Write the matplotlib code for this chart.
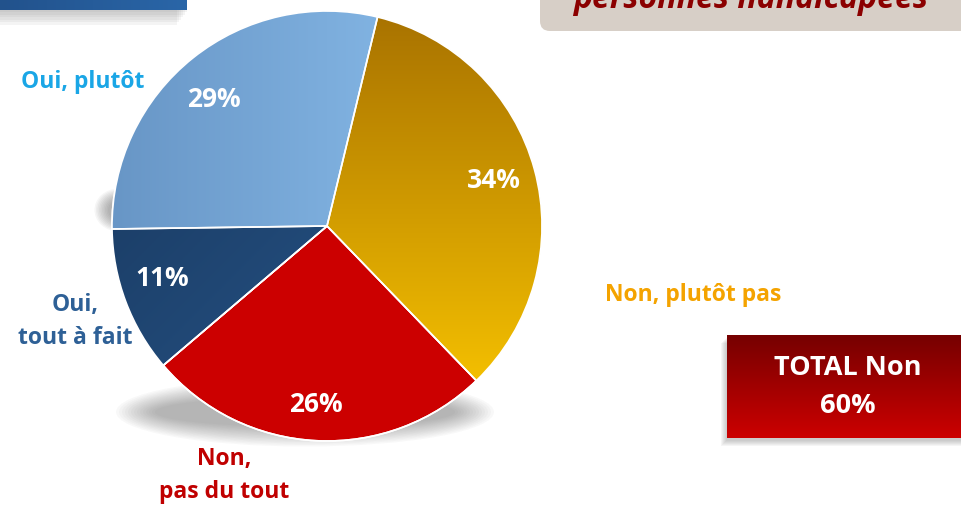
import numpy as np
import matplotlib
matplotlib.use("Agg")
import matplotlib.pyplot as plt
from matplotlib.patches import FancyBboxPatch, Rectangle, Ellipse, Wedge
from matplotlib.colors import LinearSegmentedColormap

plt.rcParams['font.family'] = ['Open Sans', 'DejaVu Sans']

categories = ["Non, plutôt pas", "Non,\npas du tout", "Oui,\ntout à fait", "Oui, plutôt"]
values = [34, 26, 11, 29]
pct_labels = ["34%", "26%", "11%", "29%"]
total_label = "TOTAL Non\n60%"
title_fragment = "personnes handicapées"

W, H = 962, 505
fig = plt.figure(figsize=(W / 100, H / 100), dpi=100)
ax = fig.add_axes([0, 0, 1, 1])

def Y(py):
    return H - py

cx, cy, R = 327, Y(226), 215

# shadow under the pie
for i in range(14):
    ax.add_patch(Ellipse((305, Y(412)), 300 + i * 6, 30 + i * 3,
                         color='#505050', alpha=0.035, lw=0, zorder=1))
for i in range(10):
    ax.add_patch(Ellipse((118, Y(210)), 20 + i * 3, 20 + i * 2.5,
                         color='#505050', alpha=0.05, lw=0, zorder=1))

wedges, _ = ax.pie(values, center=(cx, cy), radius=R, startangle=76.4,
                   counterclock=False, colors=['#E0A000', '#CC0000', '#22507F', '#7AAEE0'],
                   wedgeprops=dict(edgecolor='white', linewidth=1.2))
for w in wedges:
    w.set_zorder(3)

def gradient_fill(wedge, c1, c2, direction):
    cmap = LinearSegmentedColormap.from_list('g', [c1, c2])
    g = np.linspace(0, 1, 256)
    if direction == 'v':
        img = np.tile(g[:, None], (1, 2))
    elif direction == 'h':
        img = np.tile(g[None, :], (2, 1))
    else:
        xx, yy = np.meshgrid(g, g)
        img = (xx + (1 - yy)) / 2
    im = ax.imshow(img, cmap=cmap, extent=[cx - R, cx + R, cy - R, cy + R],
                   origin='lower', zorder=3.1, interpolation='bilinear', aspect='auto')
    im.set_clip_path(wedge)

gradient_fill(wedges[0], '#FFCB00', '#A87200', 'v')
gradient_fill(wedges[3], '#6896C6', '#90C4F2', 'h')
gradient_fill(wedges[2], '#17365C', '#2B5C92', 'd')

for w in wedges:
    ax.add_patch(Wedge(w.center, w.r, w.theta1, w.theta2,
                       facecolor='none', edgecolor='white', lw=1.2, zorder=3.2))

# percentage labels
pct_pos = [(494, 180), (316, 405), (162, 279), (214, 99)]
for (px, py), t in zip(pct_pos, pct_labels):
    ax.text(px, Y(py), t, color='white', fontsize=19, fontweight='bold',
            ha='center', va='center', zorder=5)

# category labels
cat_pos = [(693, 295), (224, 476), (75, 322), (83, 82)]
cat_col = ['#F4A300', '#C00000', '#2E6096', '#1AA6E6']
for (px, py), t, c in zip(cat_pos, categories, cat_col):
    ax.text(px, Y(py), t, color=c, fontsize=16.5, fontweight='bold',
            ha='center', va='center', linespacing=1.5, zorder=5)

# TOTAL box with shadow and gradient
for i in range(6):
    ax.add_patch(Rectangle((727 - 6 + i, Y(438) - 8 + i), 250, 103,
                           color='#606060', alpha=0.06, lw=0, zorder=3))
bcmap = LinearSegmentedColormap.from_list('b', ['#CC0000', '#760000'])
ax.imshow(np.tile(np.linspace(0, 1, 256)[:, None], (1, 2)), cmap=bcmap, origin='lower',
          extent=[727, 970, Y(438), Y(335)], zorder=4, aspect='auto')
ax.text(848, Y(387), total_label, color='white', fontsize=19.5, fontweight='bold',
        ha='center', va='center', linespacing=1.6, zorder=5)

# top-left blue box (cut off) with shadow
for i in range(6):
    ax.add_patch(Rectangle((-10, Y(12) - i * 2.5), 197 - i * 2, 20,
                           color='#707070', alpha=0.07, lw=0, zorder=3))
tcmap = LinearSegmentedColormap.from_list('t', ['#22528C', '#2A66A8'])
ax.imshow(np.tile(np.linspace(0, 1, 256)[None, :], (2, 1)), cmap=tcmap, origin='lower',
          extent=[0, 187, Y(10), H + 5], zorder=4, aspect='auto')

# top-right beige rounded box with cut-off title
ax.add_patch(FancyBboxPatch((540, Y(31)), 430, 60,
                            boxstyle='round,pad=0,rounding_size=10',
                            facecolor='#D7CFC7', edgecolor='none', zorder=4))
ax.text(751, Y(8), title_fragment, color='#8B0000', fontsize=23, fontweight='bold',
        style='italic', ha='center', va='baseline', zorder=5)

ax.set_xlim(0, W)
ax.set_ylim(0, H)
ax.set_aspect('equal')
ax.axis('off')

fig.savefig('out.png', dpi=100)
